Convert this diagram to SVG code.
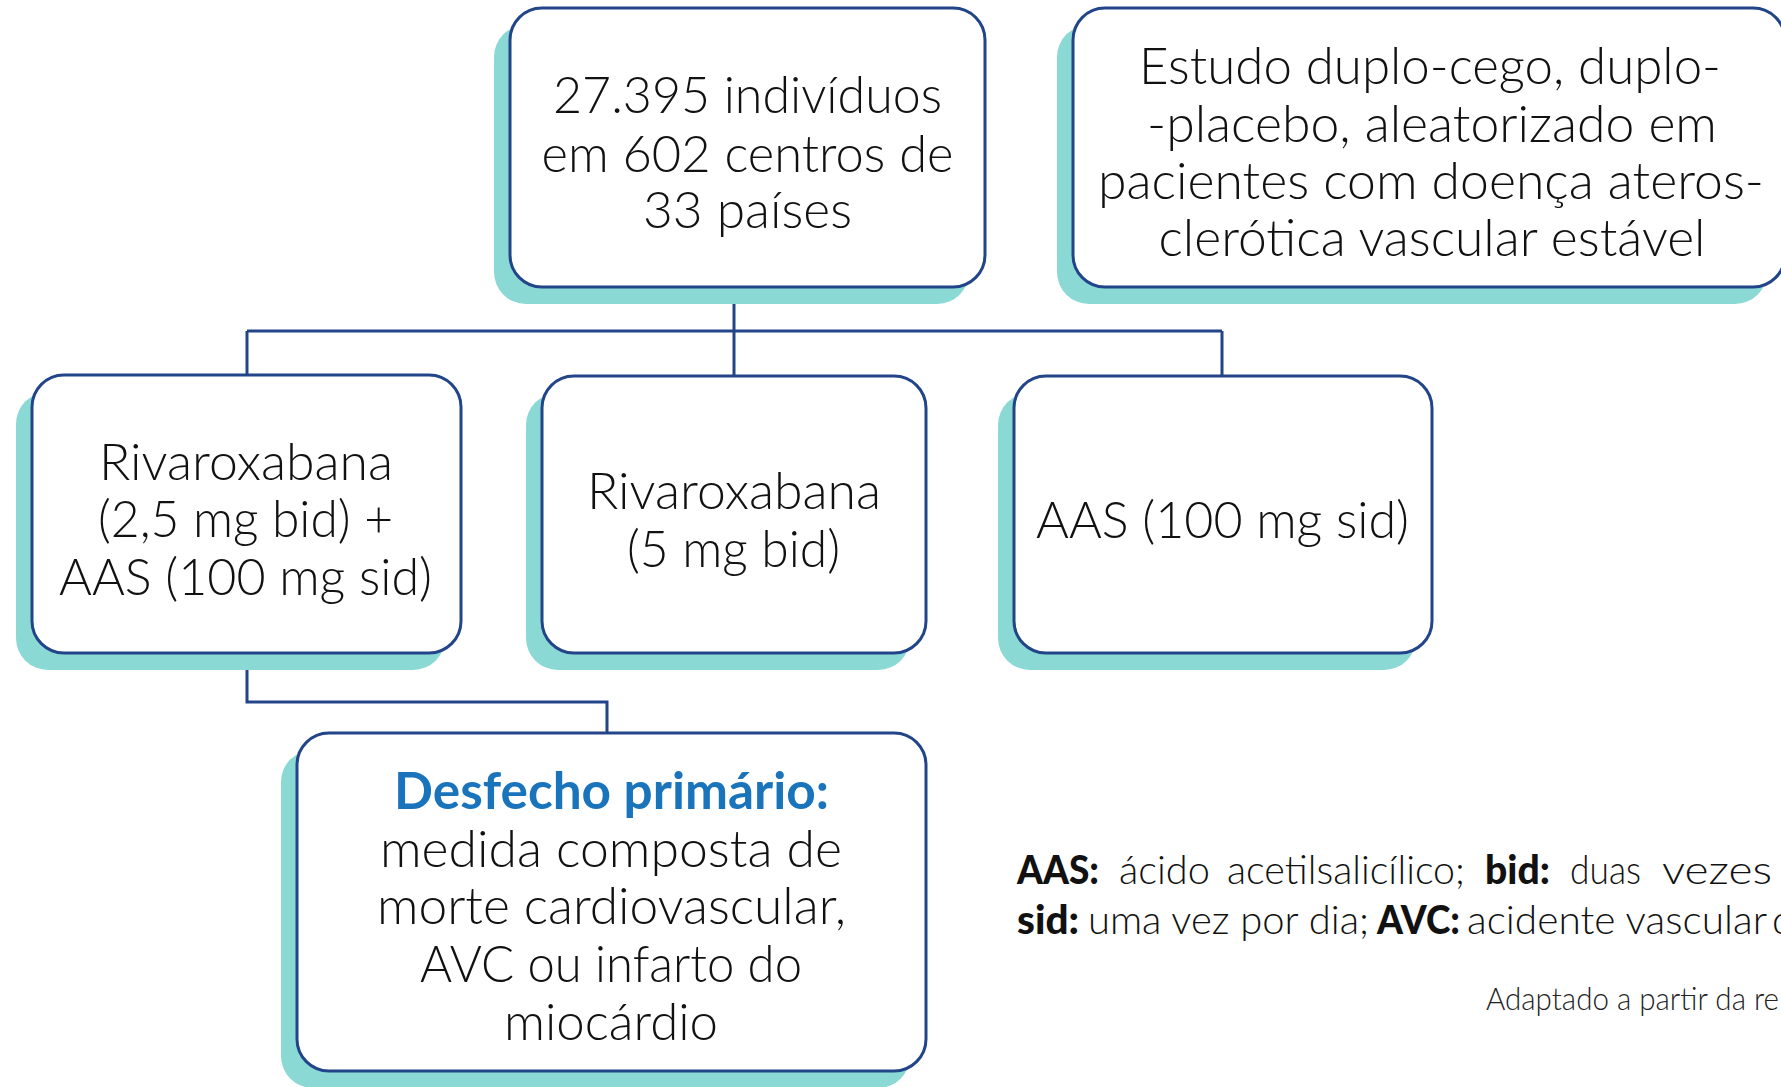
<svg xmlns="http://www.w3.org/2000/svg" width="1781" height="1087" viewBox="0 0 1781 1087">
  <style>
    .shadow { fill: #8bd9d5; }
    .box { fill: #ffffff; stroke: #22458a; stroke-width: 3; }
    .conn { fill: none; stroke: #22458a; stroke-width: 3; }
    .t { font-family: Lato, "Open Sans", "Liberation Sans", sans-serif; font-weight: 300; font-size: 51px; fill: #111111; text-anchor: middle; }
    .hb { font-family: Lato, "Open Sans", "Liberation Sans", sans-serif; font-weight: 700; font-size: 51px; fill: #1a74bb; text-anchor: middle; }
    .lg { font-family: Lato, "Open Sans", "Liberation Sans", sans-serif; font-weight: 300; font-size: 40px; fill: #111111; }
    .lgb { font-family: Lato, "Open Sans", "Liberation Sans", sans-serif; font-weight: 900; font-size: 40px; fill: #111111; }
    .src { font-family: Lato, "Open Sans", "Liberation Sans", sans-serif; font-weight: 300; font-size: 31px; fill: #222222; }
  </style>

  <g id="connectors">
    <path class="conn" d="M734 287 V331"/>
    <path class="conn" d="M247 331 H1222"/>
    <path class="conn" d="M247 331 V375"/>
    <path class="conn" d="M734 331 V376"/>
    <path class="conn" d="M1222 331 V376"/>
    <path class="conn" d="M247 653 V702 H607 V733"/>
  </g>

  <g id="node-population">
    <rect class="shadow" x="494" y="25" width="475" height="279" rx="32"/>
    <rect class="box" x="510" y="8" width="475" height="279" rx="32"/>
    <text class="t" x="747.5" y="113" textLength="389" lengthAdjust="spacingAndGlyphs">27.395 indivíduos</text>
    <text class="t" x="747.5" y="172" textLength="412" lengthAdjust="spacingAndGlyphs">em 602 centros de</text>
    <text class="t" x="747.5" y="228" textLength="209" lengthAdjust="spacingAndGlyphs">33 países</text>
  </g>

  <g id="node-design">
    <rect class="shadow" x="1057" y="25" width="710" height="279" rx="32"/>
    <rect class="box" x="1073" y="8" width="712" height="279" rx="32"/>
    <text class="t" x="1430" y="84" textLength="582" lengthAdjust="spacingAndGlyphs">Estudo duplo-cego, duplo-</text>
    <text class="t" x="1432" y="141.5" textLength="570" lengthAdjust="spacingAndGlyphs">-placebo, aleatorizado em</text>
    <text class="t" x="1431" y="199" textLength="666" lengthAdjust="spacingAndGlyphs">pacientes com doença ateros-</text>
    <text class="t" x="1432" y="256" textLength="547" lengthAdjust="spacingAndGlyphs">clerótica vascular estável</text>
  </g>

  <g id="node-riva-aas">
    <rect class="shadow" x="16" y="392" width="429" height="278" rx="32"/>
    <rect class="box" x="32" y="375" width="429" height="278" rx="32"/>
    <text class="t" x="246" y="480" textLength="294" lengthAdjust="spacingAndGlyphs">Rivaroxabana</text>
    <text class="t" x="245.5" y="537" textLength="295" lengthAdjust="spacingAndGlyphs">(2,5 mg bid) +</text>
    <text class="t" x="245.5" y="595" textLength="373" lengthAdjust="spacingAndGlyphs">AAS (100 mg sid)</text>
  </g>

  <g id="node-riva">
    <rect class="shadow" x="526" y="393" width="384" height="277" rx="32"/>
    <rect class="box" x="542" y="376" width="384" height="277" rx="32"/>
    <text class="t" x="734" y="509" textLength="294" lengthAdjust="spacingAndGlyphs">Rivaroxabana</text>
    <text class="t" x="733.5" y="567" textLength="213" lengthAdjust="spacingAndGlyphs">(5 mg bid)</text>
  </g>

  <g id="node-aas">
    <rect class="shadow" x="998" y="393" width="418" height="277" rx="32"/>
    <rect class="box" x="1014" y="376" width="418" height="277" rx="32"/>
    <text class="t" x="1222.5" y="538" textLength="373" lengthAdjust="spacingAndGlyphs">AAS (100 mg sid)</text>
  </g>

  <g id="node-outcome">
    <rect class="shadow" x="281" y="750" width="629" height="338" rx="32"/>
    <rect class="box" x="297" y="733" width="629" height="338" rx="32"/>
    <text class="hb" x="611.5" y="809" textLength="435" lengthAdjust="spacingAndGlyphs">Desfecho primário:</text>
    <text class="t" x="611" y="867" textLength="462" lengthAdjust="spacingAndGlyphs">medida composta de</text>
    <text class="t" x="611.5" y="924" textLength="469" lengthAdjust="spacingAndGlyphs">morte cardiovascular,</text>
    <text class="t" x="611" y="982" textLength="382" lengthAdjust="spacingAndGlyphs">AVC ou infarto do</text>
    <text class="t" x="611" y="1040" textLength="214" lengthAdjust="spacingAndGlyphs">miocárdio</text>
  </g>

  <g id="legend">
    <text class="lgb" x="1017" y="884" textLength="82" lengthAdjust="spacingAndGlyphs">AAS:</text>
    <text class="lg" x="1119" y="884" textLength="91" lengthAdjust="spacingAndGlyphs">ácido</text>
    <text class="lg" x="1227" y="884" textLength="238" lengthAdjust="spacingAndGlyphs">acetilsalicílico;</text>
    <text class="lgb" x="1485" y="884" textLength="65" lengthAdjust="spacingAndGlyphs">bid:</text>
    <text class="lg" x="1570" y="884" textLength="71" lengthAdjust="spacingAndGlyphs">duas</text>
    <text class="lg" x="1662" y="884" textLength="110" lengthAdjust="spacingAndGlyphs">vezes</text>

    <text class="lgb" x="1017" y="934" textLength="62" lengthAdjust="spacingAndGlyphs">sid:</text>
    <text class="lg" x="1088" y="934" textLength="281" lengthAdjust="spacingAndGlyphs">uma vez por dia;</text>
    <text class="lgb" x="1377" y="934" textLength="83" lengthAdjust="spacingAndGlyphs">AVC:</text>
    <text class="lg" x="1467" y="934" textLength="300" lengthAdjust="spacingAndGlyphs">acidente vascular</text>
    <text class="lg" x="1772" y="934">d</text>

    <text class="src" x="1486" y="1010" textLength="293" lengthAdjust="spacingAndGlyphs">Adaptado a partir da re</text>
  </g>
</svg>
